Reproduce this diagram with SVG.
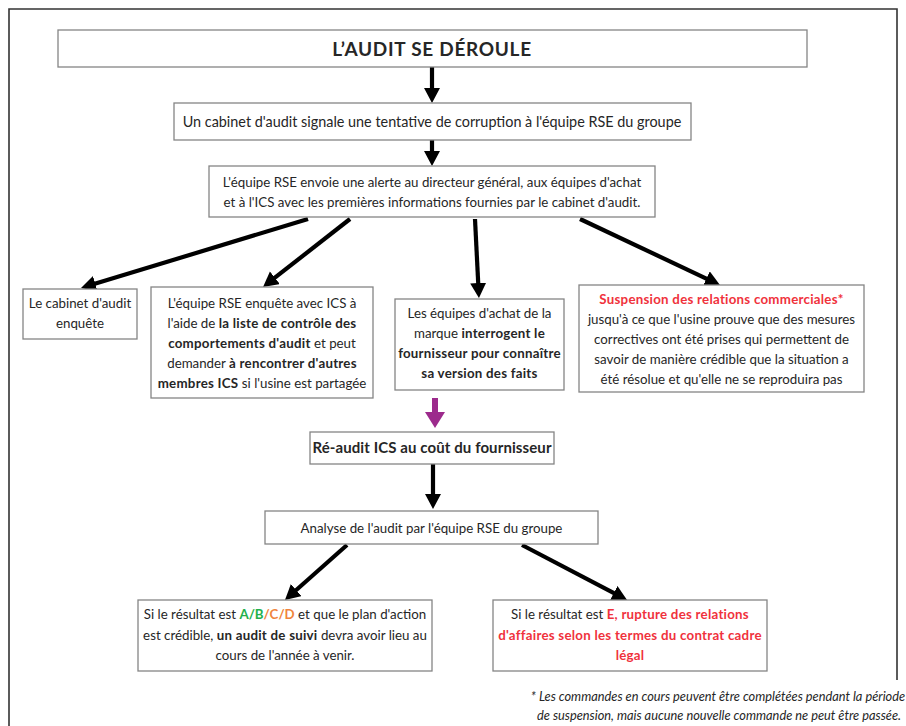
<svg xmlns="http://www.w3.org/2000/svg" width="906" height="726" viewBox="0 0 906 726">
<style>
text{font-family:Lato,"Liberation Sans",sans-serif;font-size:13.3px;fill:#262626;text-anchor:middle}
.b{font-weight:bold;letter-spacing:0.25px}
.red{fill:#f0323c;font-weight:bold;letter-spacing:0.25px}
.grn{fill:#22b04b;font-weight:bold}
.org{fill:#f0843c;font-weight:bold}
.box{fill:#fff;stroke:#858585;stroke-width:1.3}
.frame{fill:none;stroke:#333;stroke-width:1.6}
.arr{stroke:#000;stroke-width:4.2;fill:none;marker-end:url(#ah)}
.fn{font-style:italic;font-size:12.8px}
</style>
<defs>
<marker id="ah" markerUnits="userSpaceOnUse" markerWidth="17" markerHeight="17" refX="4" refY="8" orient="auto">
<path d="M0,0 L15,8 L0,16 Z" fill="#000"/>
</marker>
</defs>
<rect width="906" height="726" fill="#fff"/>
<path class="frame" d="M9,730 L9,9 L897,9 L897,680"/>

<g id="connectors">
<line class="arr" x1="432" y1="67" x2="432" y2="92"/>
<line class="arr" x1="432" y1="140" x2="432" y2="155"/>
<line class="arr" x1="308" y1="219" x2="91.5" y2="284.8"/>
<line class="arr" x1="350" y1="219" x2="271.7" y2="280.2"/>
<line class="arr" x1="475" y1="219" x2="478.4" y2="287"/>
<line class="arr" x1="580" y1="219" x2="710" y2="280.3"/>
<polygon points="432,398 438,398 438,412 445,412 435,428 425,412 432,412" fill="#9c2a8c"/>
<line class="arr" x1="433" y1="464" x2="433" y2="498"/>
<line class="arr" x1="347" y1="545" x2="293.2" y2="592.7"/>
<line class="arr" x1="522" y1="545" x2="617.3" y2="594.9"/>
</g>

<g id="title">
<rect class="box" x="58" y="30" width="749" height="37"/>
<text class="b" x="432" y="55.5" style="font-size:19px;letter-spacing:0.7px">L’AUDIT SE DÉROULE</text>
</g>

<g id="signal">
<rect class="box" x="174" y="103" width="517" height="37"/>
<text x="432" y="126.5" style="font-size:14.4px">Un cabinet d'audit signale une tentative de corruption à l'équipe RSE du groupe</text>
</g>

<g id="alerte">
<rect class="box" x="209" y="166" width="446" height="51"/>
<text x="432" y="187">L'équipe RSE envoie une alerte au directeur général, aux équipes d'achat</text>
<text x="432" y="207">et à l'ICS avec les premières informations fournies par le cabinet d'audit.</text>
</g>

<g id="cabinet">
<rect class="box" x="23" y="289" width="114" height="50"/>
<text x="80" y="308">Le cabinet d'audit</text>
<text x="80" y="328">enquête</text>
</g>

<g id="enquete">
<rect class="box" x="151" y="287" width="222" height="111"/>
<text x="262" y="308">L'équipe RSE enquête avec ICS à</text>
<text x="262" y="328">l'aide de <tspan class="b">la liste de contrôle des</tspan></text>
<text x="262" y="348"><tspan class="b">comportements d'audit</tspan> et peut</text>
<text x="262" y="368">demander <tspan class="b">à rencontrer d'autres</tspan></text>
<text x="262" y="388"><tspan class="b">membres ICS</tspan> si l'usine est partagée</text>
</g>

<g id="achat">
<rect class="box" x="395" y="299" width="169" height="91"/>
<text x="479.5" y="318">Les équipes d'achat de la</text>
<text x="479.5" y="338">marque <tspan class="b">interrogent le</tspan></text>
<text x="479.5" y="358" class="b">fournisseur pour connaître</text>
<text x="479.5" y="378" class="b">sa version des faits</text>
</g>

<g id="suspension">
<rect class="box" x="579" y="285" width="285" height="107"/>
<text x="721.5" y="304" class="red">Suspension des relations commerciales*</text>
<text x="721.5" y="324">jusqu'à ce que l'usine prouve que des mesures</text>
<text x="721.5" y="344">correctives ont été prises qui permettent de</text>
<text x="721.5" y="364">savoir de manière crédible que la situation a</text>
<text x="721.5" y="384">été résolue et qu'elle ne se reproduira pas</text>
</g>

<g id="reaudit">
<rect class="box" x="310" y="432" width="244" height="32"/>
<text x="432" y="452.5" class="b" style="font-size:15px;letter-spacing:0.1px">Ré-audit ICS au coût du fournisseur</text>
</g>

<g id="analyse">
<rect class="box" x="265" y="511" width="333" height="33"/>
<text x="431.5" y="532.5">Analyse de l'audit par l'équipe RSE du groupe</text>
</g>

<g id="suivi">
<rect class="box" x="138" y="600" width="294" height="71"/>
<text x="285" y="619">Si le résultat est <tspan class="grn">A/B</tspan><tspan class="org">/C/D</tspan> et que le plan d'action</text>
<text x="285" y="639.5">est crédible, <tspan class="b">un audit de suivi</tspan> devra avoir lieu au</text>
<text x="285" y="660">cours de l'année à venir.</text>
</g>

<g id="rupture">
<rect class="box" x="493" y="600" width="274" height="71"/>
<text x="630" y="619">Si le résultat est <tspan class="red">E, rupture des relations</tspan></text>
<text x="630" y="639.5" class="red">d'affaires selon les termes du contrat cadre</text>
<text x="630" y="660" class="red">légal</text>
</g>

<g id="footnote">
<text class="fn" x="718" y="701">* Les commandes en cours peuvent être complétées pendant la période</text>
<text class="fn" x="719" y="720">de suspension, mais aucune nouvelle commande ne peut être passée.</text>
</g>
</svg>
